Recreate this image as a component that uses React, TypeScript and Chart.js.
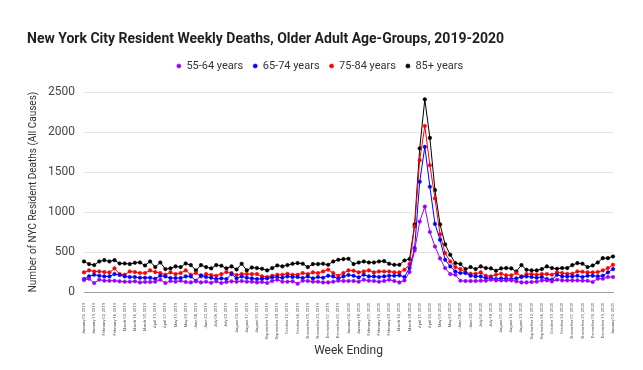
import { useEffect, useRef } from 'react';
import { Chart, registerables } from 'chart.js';

Chart.register(...registerables);

const weekEnding = [
  'January 05, 2019', 'January 12, 2019', 'January 19, 2019', 'January 26, 2019',
  'February 02, 2019', 'February 09, 2019', 'February 16, 2019', 'February 23, 2019',
  'March 02, 2019', 'March 09, 2019', 'March 16, 2019', 'March 23, 2019', 'March 30, 2019',
  'April 06, 2019', 'April 13, 2019', 'April 20, 2019', 'April 27, 2019',
  'May 04, 2019', 'May 11, 2019', 'May 18, 2019', 'May 25, 2019',
  'June 01, 2019', 'June 08, 2019', 'June 15, 2019', 'June 22, 2019', 'June 29, 2019',
  'July 06, 2019', 'July 13, 2019', 'July 20, 2019', 'July 27, 2019',
  'August 03, 2019', 'August 10, 2019', 'August 17, 2019', 'August 24, 2019', 'August 31, 2019',
  'September 07, 2019', 'September 14, 2019', 'September 21, 2019', 'September 28, 2019',
  'October 05, 2019', 'October 12, 2019', 'October 19, 2019', 'October 26, 2019',
  'November 02, 2019', 'November 09, 2019', 'November 16, 2019', 'November 23, 2019', 'November 30, 2019',
  'December 07, 2019', 'December 14, 2019', 'December 21, 2019', 'December 28, 2019',
  'January 04, 2020', 'January 11, 2020', 'January 18, 2020', 'January 25, 2020',
  'February 01, 2020', 'February 08, 2020', 'February 15, 2020', 'February 22, 2020', 'February 29, 2020',
  'March 07, 2020', 'March 14, 2020', 'March 21, 2020', 'March 28, 2020',
  'April 04, 2020', 'April 11, 2020', 'April 18, 2020', 'April 25, 2020',
  'May 02, 2020', 'May 09, 2020', 'May 16, 2020', 'May 23, 2020', 'May 30, 2020',
  'June 06, 2020', 'June 13, 2020', 'June 20, 2020', 'June 27, 2020',
  'July 04, 2020', 'July 11, 2020', 'July 18, 2020', 'July 25, 2020',
  'August 01, 2020', 'August 08, 2020', 'August 15, 2020', 'August 22, 2020', 'August 29, 2020',
  'September 05, 2020', 'September 12, 2020', 'September 19, 2020', 'September 26, 2020',
  'October 03, 2020', 'October 10, 2020', 'October 17, 2020', 'October 24, 2020', 'October 31, 2020',
  'November 07, 2020', 'November 14, 2020', 'November 21, 2020', 'November 28, 2020',
  'December 05, 2020', 'December 12, 2020', 'December 19, 2020', 'December 26, 2020',
  'January 02, 2021',
];

const deaths55to64 = [
  149, 165, 112, 154, 141, 141, 141, 133, 129, 129, 133, 120, 125, 125, 129, 154, 112, 137, 129, 141,
  125, 120, 133, 120, 129, 116, 133, 112, 125, 133, 129, 137, 129,
  129, 120, 125, 112, 137, 154, 129, 129, 133, 104, 141, 137, 129, 129, 120, 120, 129, 141, 137, 137,
  137, 129, 154, 141, 137, 129, 137, 154, 137, 120, 145, 250, 520, 880, 1067, 750, 568,
  420, 299, 224, 216, 141, 137, 137, 137, 141, 141, 154, 145, 145, 145, 145, 133, 120, 120, 125, 129,
  145, 145, 133, 154, 145, 145, 145, 145, 141, 141, 125, 166, 166, 187, 187,
];

const deaths65to74 = [
  162, 195, 216, 203, 195, 195, 224, 212, 195, 187, 187, 178, 178, 178, 166, 203, 195, 174, 174, 174,
  195, 195, 141, 208, 187, 178, 162, 170, 162, 224, 170, 195, 178,
  170, 162, 166, 170, 183, 187, 178, 195, 187, 187, 174, 195, 170, 187, 178, 203, 195, 166, 195, 212,
  203, 183, 216, 195, 195, 187, 195, 203, 203, 208, 187, 299, 548, 1378, 1814, 1316, 851,
  652, 403, 320, 257, 237, 237, 203, 195, 195, 174, 170, 162, 170, 166, 162, 170, 187, 195, 187, 178,
  187, 162, 154, 216, 195, 195, 195, 203, 187, 203, 203, 195, 203, 245, 286,
];

const deaths75to84 = [
  245, 270, 257, 257, 249, 245, 295, 224, 216, 257, 249, 237, 237, 270, 249, 237, 216, 245, 224, 237,
  270, 216, 237, 195, 224, 212, 203, 224, 249, 237, 212, 224, 224,
  224, 224, 195, 187, 203, 216, 216, 228, 216, 216, 237, 224, 245, 237, 257, 278, 237, 203, 237, 270,
  266, 245, 257, 270, 245, 257, 257, 257, 245, 245, 278, 349, 818, 1648, 2075, 1585, 1170,
  722, 486, 382, 311, 286, 245, 228, 228, 245, 203, 195, 216, 228, 208, 208, 237, 195, 224, 224, 216,
  224, 224, 216, 245, 237, 228, 228, 257, 253, 245, 245, 249, 270, 299, 340,
];

const deaths85plus = [
  382, 349, 336, 382, 398, 382, 398, 357, 357, 349, 365, 369, 332, 382, 311, 369, 286, 295, 320, 311,
  357, 336, 270, 336, 311, 295, 336, 328, 295, 320, 282, 353, 270,
  307, 299, 290, 270, 299, 332, 320, 336, 353, 361, 353, 311, 349, 349, 353, 340, 382, 403, 411, 415,
  349, 369, 382, 369, 369, 382, 386, 353, 340, 340, 394, 411, 845, 1795, 2408, 1926, 1274,
  845, 595, 465, 361, 349, 286, 311, 286, 320, 299, 295, 266, 295, 299, 295, 257, 336, 278, 270, 270,
  286, 320, 299, 290, 299, 299, 336, 361, 353, 311, 332, 369, 423, 423, 444,
];

const seriesNames = ['55-64 years', '65-74 years', '75-84 years', '85+ years'];
const seriesColors = ['#9900ff', '#0000ff', '#ff0000', '#000000'];
const yTicks = [0, 500, 1000, 1500, 2000, 2500];

export default function App() {
  const ref = useRef<HTMLCanvasElement>(null);

  useEffect(() => {
    if (!ref.current) return;
    const values = [deaths55to64, deaths65to74, deaths75to84, deaths85plus];
    const chart = new Chart(ref.current, {
      type: 'line',
      data: {
        labels: weekEnding,
        datasets: values.map((d, i) => ({
          label: seriesNames[i],
          data: d,
          borderColor: seriesColors[i],
          backgroundColor: seriesColors[i],
          pointBackgroundColor: seriesColors[i],
          pointBorderColor: seriesColors[i],
          borderWidth: 1,
          pointRadius: 1.8,
          pointBorderWidth: 0.5,
          tension: 0,
          fill: false,
        })),
      },
      options: {
        animation: false,
        responsive: false,
        devicePixelRatio: 1,
        layout: { padding: { left: 27, right: 30, top: 22, bottom: 12 } },
        plugins: {
          title: {
            display: true,
            text: 'New York City Resident Weekly Deaths, Older Adult Age-Groups, 2019-2020',
            align: 'start',
            color: '#1f1f1f',
            font: { family: 'Roboto', size: 14, weight: 'bold' },
            padding: { top: 8.6, bottom: 3.1 },
          },
          subtitle: {
            display: true,
            text: ' ',
            weight: 500,
            font: { size: 1 },
            padding: { top: 0, bottom: 9.3 },
          } as any,
          legend: {
            position: 'top',
            align: 'center',
            labels: {
              usePointStyle: true,
              pointStyle: 'circle',
              boxWidth: 4,
              boxHeight: 3,
              color: '#333333',
              font: { family: 'Roboto', size: 11 },
              padding: 10,
            },
          },
          tooltip: { enabled: false },
        },
        scales: {
          x: {
            grid: { display: false },
            border: { color: '#9e9e9e' },
            ticks: {
              autoSkip: false,
              minRotation: 90,
              maxRotation: 90,
              padding: 3,
              color: '#555555',
              font: { family: 'Roboto', size: 4.1 },
              callback: (_v: any, i: number) => (i % 2 === 0 ? weekEnding[i] : ''),
            },
            title: {
              display: true,
              text: 'Week Ending',
              color: '#333333',
              font: { family: 'Roboto', size: 12 },
              padding: 0,
            },
            afterFit: (s: any) => { s.height = 66; },
          },
          y: {
            min: yTicks[0],
            max: yTicks[yTicks.length - 1],
            afterBuildTicks: (s: any) => { s.ticks = yTicks.map((v) => ({ value: v })); },
            grid: {
              drawTicks: false,
              color: (c: any) => (c.tick && c.tick.value === 0 ? '#9e9e9e' : '#e3e3e3'),
            },
            border: { display: false },
            ticks: {
              padding: 9,
              color: '#444444',
              font: { family: 'Roboto', size: 12 },
              callback: (v: any) => String(v),
            },
            title: {
              display: true,
              text: 'Number of NYC Resident Deaths (All Causes)',
              color: '#333333',
              font: { family: 'Roboto', size: 10 },
              padding: 0,
            },
            afterFit: (s: any) => { s.width = 57; },
          },
        },
      },
    });
    return () => chart.destroy();
  }, []);

  return (
    <div style={{ position: 'absolute', left: 0, top: 0, width: 643, height: 370, background: '#fff' }}>
      <canvas ref={ref} width={643} height={370} />
    </div>
  );
}
